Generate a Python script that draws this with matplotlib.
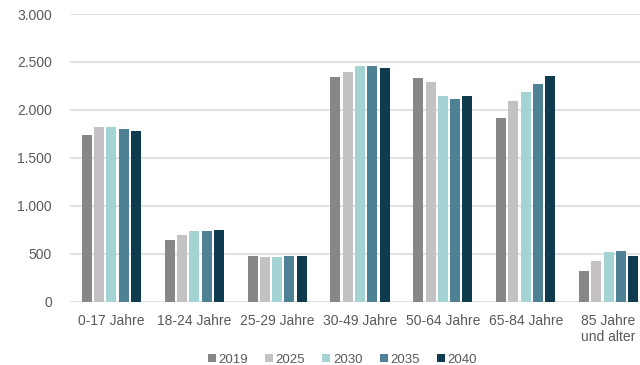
import matplotlib
matplotlib.use("Agg")
import matplotlib.pyplot as plt
import numpy as np

categories = ["0-17 Jahre", "18-24 Jahre", "25-29 Jahre", "30-49 Jahre",
              "50-64 Jahre", "65-84 Jahre", "85 Jahre\nund alter"]
years = ["2019", "2025", "2030", "2035", "2040"]
v2019 = [1740, 644, 475, 2340, 2330, 1916, 323]
v2025 = [1820, 696, 463, 2400, 2288, 2093, 421]
v2030 = [1822, 737, 463, 2461, 2142, 2187, 518]
v2035 = [1798, 737, 475, 2461, 2111, 2274, 529]
v2040 = [1784, 751, 475, 2440, 2149, 2354, 477]
series = [v2019, v2025, v2030, v2035, v2040]
colors = ["#878787", "#c4c1c4", "#a3d3d3", "#4e8193", "#0f3b4f"]
yticks = [0, 500, 1000, 1500, 2000, 2500, 3000]
ytick_labels = ["0", "500", "1.000", "1.500", "2.000", "2.500", "3.000"]

plt.rcParams['font.family'] = ['Liberation Sans', 'DejaVu Sans']
fig = plt.figure(figsize=(6.4, 3.65), dpi=100)
ax = fig.add_axes([70/640, (365-301.7)/365, 580/640, (301.7-14)/365])

x = np.arange(len(categories))
pitch = 0.1486
bw = 0.121
for j, (vals, c, lab) in enumerate(zip(series, colors, years)):
    ax.bar(x + (j - 2) * pitch, vals, width=bw, color=c, label=lab, zorder=3)

ax.set_xlim(-0.5, len(categories) - 0.5)
ax.set_ylim(0, 3000)
ax.set_yticks(yticks)
ax.set_yticklabels(ytick_labels)
ax.set_xticks(x)
ax.set_xticklabels(categories)
ax.grid(axis='y', color='#dcdcdc', linewidth=1.2, zorder=0)
for s in ax.spines.values():
    s.set_visible(False)
ax.tick_params(axis='both', length=0, labelsize=10, colors='#595959')
ax.tick_params(axis='y', pad=13)
ax.tick_params(axis='x', pad=9)

fig.legend(loc='lower center', bbox_to_anchor=(0.535, -0.035), ncol=5, frameon=False,
           fontsize=9.5, handlelength=0.6, handleheight=0.6, handletextpad=0.2,
           columnspacing=1.3, labelcolor='#595959')

fig.savefig("out.png", dpi=100)
